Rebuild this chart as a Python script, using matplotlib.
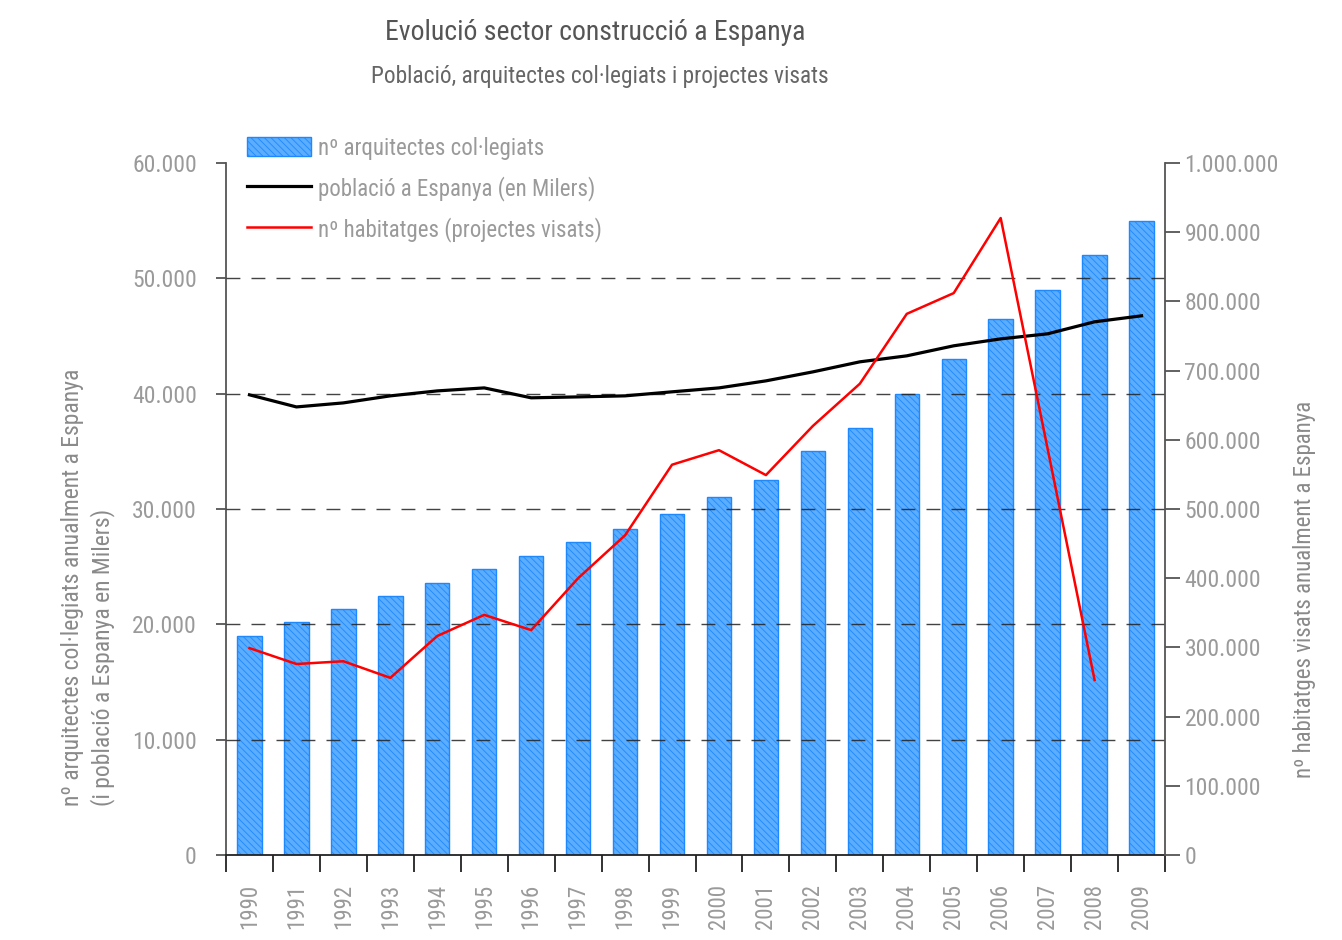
import matplotlib
matplotlib.use("Agg")
import matplotlib.pyplot as plt
from matplotlib import font_manager
import numpy as np

years = [str(y) for y in range(1990, 2010)]
architects = [19000, 20200, 21300, 22500, 23600, 24800, 25900, 27100, 28300, 29600,
              31000, 32500, 35000, 37000, 40000, 43000, 46500, 49000, 52000, 55000]
population = [39900, 38850, 39200, 39810, 40240, 40500, 39640, 39720, 39810, 40160,
              40500, 41110, 41890, 42760, 43280, 44150, 44750, 45190, 46230, 46750]
housing_years = [str(y) for y in range(1990, 2009)]
housing = [299000, 276000, 280000, 256000, 316500, 347000, 325000, 400000, 462000, 564000,
           585000, 549000, 620000, 681000, 782000, 812000, 920500, 587000, 253000]

left_ticks = [0, 10000, 20000, 30000, 40000, 50000, 60000]
right_ticks = [0, 100000, 200000, 300000, 400000, 500000, 600000, 700000, 800000, 900000, 1000000]

def fmt(v):
    return f"{v:,}".replace(",", ".")

available = {f.name for f in font_manager.fontManager.ttflist}
fam = []
for cand in ["Liberation Sans Narrow", "Roboto Condensed", "DejaVu Sans"]:
    if cand in available:
        fam.append(cand)
plt.rcParams['font.family'] = fam
if "Liberation Sans Narrow" not in available:
    plt.rcParams['font.stretch'] = 'condensed'
plt.rcParams['hatch.linewidth'] = 0.6
plt.rcParams['hatch.color'] = '#2277dd'

GRAY = '#9a9a9a'
LGRAY = '#8a8a8a'
fig = plt.figure(figsize=(13.42, 9.40), dpi=100)
ax = fig.add_axes([226/1342, 1-855/940, (1165-226)/1342, (855-163)/940])
ax2 = ax.twinx()

x = np.arange(len(years))
bars = ax.bar(x, architects, width=0.52, facecolor='#5aadff', edgecolor='#1e88ff',
              linewidth=1.0, hatch='\\\\\\\\\\', zorder=2, label='nº arquitectes col·legiats')
ax.plot(x, population, color='black', lw=2.3, zorder=4, label='població a Espanya (en Milers)')
hx = [years.index(y) for y in housing_years]
ax2.plot(hx, housing, color='#ff0000', lw=1.8, zorder=4, label='nº habitatges (projectes visats)')

ax.set_xlim(-0.5, len(years) - 0.5)
ax.set_ylim(0, 60000)
ax2.set_ylim(0, 1000000)

for v in left_ticks[1:-1]:
    ax.axhline(v, color='#222222', lw=1.0, dashes=(10, 8), zorder=3, alpha=0.85)

ax.set_yticks(left_ticks)
ax.set_yticklabels([fmt(v) for v in left_ticks])
ax2.set_yticks(right_ticks)
ax2.set_yticklabels([fmt(v) for v in right_ticks])

ax.set_xticks(np.arange(-0.5, len(years)), minor=False)
ax.set_xticklabels([])
ax.set_xticks(x, minor=True)
ax.set_xticklabels(years, minor=True, rotation=90)
ax.tick_params(axis='x', which='major', length=12, width=1.3, color='#222222', direction='out')
ax.tick_params(axis='x', which='minor', length=0, pad=21, labelsize=16.5, labelcolor=GRAY)
ax.tick_params(axis='y', length=7, width=1.3, color='#555555', labelsize=17, labelcolor=GRAY, pad=14)
ax2.tick_params(axis='y', length=11, width=1.3, color='#555555', labelsize=17, labelcolor=GRAY, pad=3)

for a in (ax, ax2):
    a.spines['top'].set_visible(False)
ax.spines['right'].set_visible(False)
ax2.spines['left'].set_visible(False)
ax2.spines['bottom'].set_visible(False)
ax.spines['left'].set_color('#555555')
ax.spines['left'].set_linewidth(1.3)
ax2.spines['right'].set_color('#555555')
ax2.spines['right'].set_linewidth(1.3)
ax.spines['bottom'].set_color('#222222')
ax.spines['bottom'].set_linewidth(1.3)

fig.text(88/1342, 1-587/940,
         "nº arquitectes col·legiats anualment a Espanya\n(i població a Espanya en Milers)",
         rotation=90, ha='center', va='center', multialignment='left',
         fontsize=17, color=LGRAY, linespacing=1.3)
fig.text(1305/1342, 1-589/940, "nº habitatges visats anualment a Espanya", rotation=90,
         ha='center', va='center', fontsize=16.5, color=LGRAY)

handles = [bars, ax.lines[0], ax2.lines[0]]
leg = ax.legend(handles, [h.get_label() for h in handles], loc='upper left',
                bbox_to_anchor=(0.0, 1.068), frameon=False, fontsize=16.5,
                handlelength=2.8, handleheight=0.85, labelspacing=0.7, handletextpad=0.3)
for t in leg.get_texts():
    t.set_color(GRAY)

fig.text(595/1342, 1-32/940, "Evolució sector construcció a Espanya", ha='center', va='center',
         fontsize=20, color='#555555')
fig.text(600/1342, 1-77/940, "Població, arquitectes col·legiats i projectes visats", ha='center',
         va='center', fontsize=16.8, color='#666666')

fig.savefig("out.png", dpi=100)
